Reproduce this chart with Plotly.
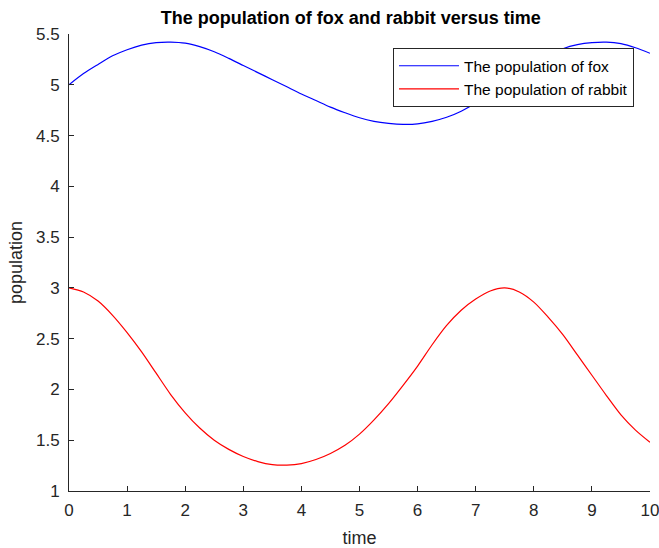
import plotly.graph_objects as go

time = [0, 0.25, 0.5, 0.75, 1.0, 1.25, 1.5, 1.75, 2.0, 2.25, 2.5, 2.75, 3.0, 3.25, 3.5, 3.75,
        4.0, 4.25, 4.5, 4.75, 5.0, 5.25, 5.5, 5.75, 6.0, 6.25, 6.5, 6.75, 7.0, 7.25, 7.5, 7.75,
        8.0, 8.25, 8.5, 8.75, 9.0, 9.25, 9.5, 9.75, 10.0]

fox = [5.00, 5.11, 5.20, 5.285, 5.345, 5.39, 5.415, 5.42, 5.41, 5.375, 5.325, 5.26, 5.19, 5.12,
       5.05, 4.98, 4.91, 4.845, 4.78, 4.725, 4.675, 4.64, 4.62, 4.61, 4.615, 4.64, 4.68, 4.74,
       4.82, 4.92, 5.01, 5.12, 5.21, 5.29, 5.355, 5.395, 5.415, 5.42, 5.405, 5.365, 5.31]

rabbit = [3.00, 2.96, 2.87, 2.73, 2.56, 2.37, 2.16, 1.95, 1.77, 1.62, 1.50, 1.41, 1.34, 1.29,
          1.26, 1.255, 1.27, 1.31, 1.37, 1.45, 1.56, 1.70, 1.86, 2.04, 2.23, 2.44, 2.63, 2.78,
          2.89, 2.97, 3.00, 2.96, 2.86, 2.71, 2.54, 2.34, 2.14, 1.94, 1.75, 1.60, 1.48]

x_ticks = [0, 1, 2, 3, 4, 5, 6, 7, 8, 9, 10]
y_ticks = [1, 1.5, 2, 2.5, 3, 3.5, 4, 4.5, 5, 5.5]
y_tick_labels = ["1", "1.5", "2", "2.5", "3", "3.5", "4", "4.5", "5", "5.5"]

fig = go.Figure()
fig.add_trace(go.Scatter(x=time, y=fox, mode="lines", name="The population of fox",
                         line=dict(color="rgb(0,0,255)", width=1.2, shape="spline", smoothing=0.8)))
fig.add_trace(go.Scatter(x=time, y=rabbit, mode="lines", name="The population of rabbit",
                         line=dict(color="rgb(255,0,0)", width=1.2, shape="spline", smoothing=0.8)))

axis_color = "#262626"
fig.update_layout(
    width=659, height=548,
    margin=dict(l=69, r=9, t=34, b=57),
    paper_bgcolor="white", plot_bgcolor="white",
    font=dict(family="Liberation Sans, Arial, sans-serif", size=16, color=axis_color),
    title=dict(text="<b>The population of fox and rabbit versus time</b>",
               x=0.485, xref="paper", xanchor="center", y=0.968, yanchor="middle",
               font=dict(size=18, color="black")),
    xaxis=dict(range=[0, 10], tickvals=x_ticks, ticks="inside", ticklen=5, tickwidth=1,
               tickcolor=axis_color, showline=True, linecolor=axis_color, linewidth=1,
               showgrid=False, zeroline=False, automargin=False, ticklabeloverflow="allow",
               ticklabelstandoff=4,
               tickfont=dict(size=17, color=axis_color),
               title=dict(text="time", font=dict(size=18, color=axis_color), standoff=14)),
    yaxis=dict(range=[1, 5.5], tickvals=y_ticks, ticktext=y_tick_labels, ticks="inside",
               ticklen=5, tickwidth=1, tickcolor=axis_color, showline=True,
               linecolor=axis_color, linewidth=1, showgrid=False, zeroline=False,
               automargin=False, ticklabeloverflow="allow", ticklabelstandoff=5,
               tickfont=dict(size=17, color=axis_color),
               title=dict(text="population", font=dict(size=18, color=axis_color), standoff=8)),
    legend=dict(x=0.9725, y=0.969, xanchor="right", yanchor="top",
                bgcolor="white", bordercolor="#262626", borderwidth=1,
                font=dict(size=15.5, color="black"), tracegroupgap=0, itemwidth=60),
    showlegend=True,
)

fig.write_html("out.html")
